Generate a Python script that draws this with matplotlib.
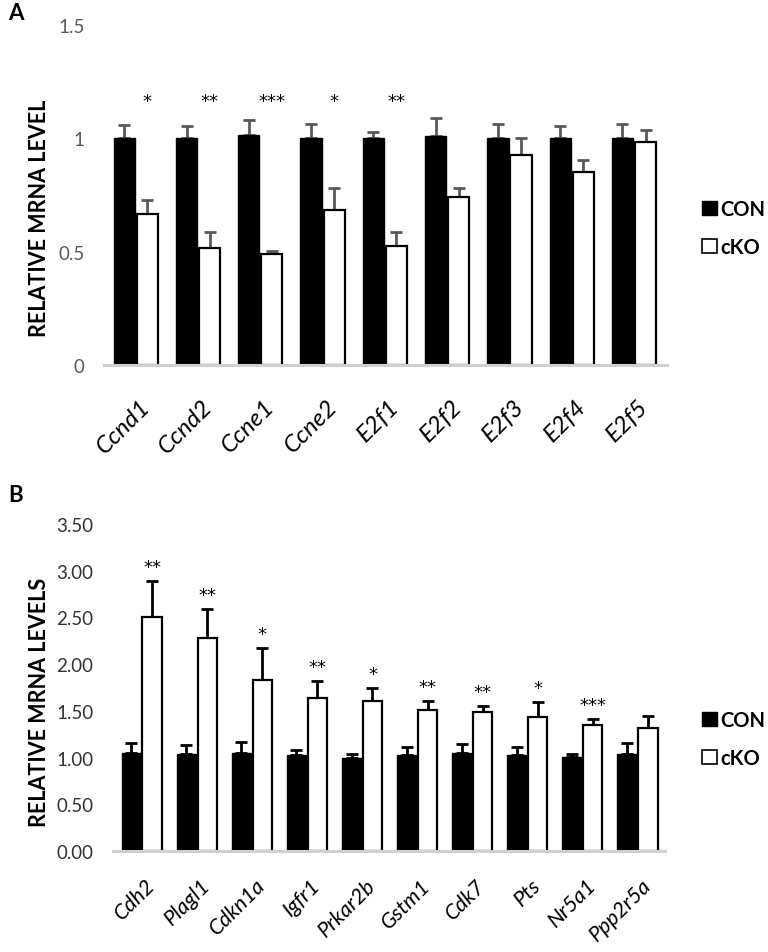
import matplotlib
matplotlib.use("Agg")
import matplotlib.pyplot as plt
import numpy as np
from matplotlib.patches import Patch

plt.rcParams["font.family"] = ["Lato", "DejaVu Sans"]

# --- Panel A: cell cycle genes ---
genes_a = ["Ccnd1", "Ccnd2", "Ccne1", "Ccne2", "E2f1", "E2f2", "E2f3", "E2f4", "E2f5"]
con_a = [1.00, 1.00, 1.015, 1.00, 1.00, 1.01, 1.00, 1.00, 1.00]
con_a_err = [0.06, 0.055, 0.065, 0.065, 0.03, 0.08, 0.065, 0.055, 0.065]
cko_a = [0.665, 0.515, 0.49, 0.685, 0.527, 0.74, 0.925, 0.853, 0.985]
cko_a_err = [0.065, 0.07, 0.015, 0.097, 0.058, 0.04, 0.075, 0.05, 0.05]
stars_a = ["*", "**", "***", "*", "**", "", "", "", ""]

# --- Panel B: upregulated genes ---
genes_b = ["Cdh2", "Plagl1", "Cdkn1a", "Igfr1", "Prkar2b", "Gstm1", "Cdk7", "Pts", "Nr5a1", "Ppp2r5a"]
con_b = [1.05, 1.04, 1.05, 1.03, 1.00, 1.03, 1.05, 1.03, 1.01, 1.04]
con_b_err = [0.11, 0.09, 0.12, 0.05, 0.04, 0.08, 0.10, 0.08, 0.03, 0.12]
cko_b = [2.50, 2.28, 1.83, 1.64, 1.61, 1.51, 1.49, 1.43, 1.35, 1.32]
cko_b_err = [0.39, 0.31, 0.34, 0.18, 0.13, 0.10, 0.06, 0.16, 0.06, 0.13]
stars_b = ["**", "**", "*", "**", "*", "**", "**", "*", "***", ""]

W, H = 768, 953
fig = plt.figure(figsize=(W / 100, H / 100), dpi=100)


def px_axes(left, right, top, bottom):
    return fig.add_axes([left / W, 1 - bottom / H, (right - left) / W, (bottom - top) / H])


def draw_panel(ax, genes, con, con_err, cko, cko_err, err_color, width, off, lab_size, lab_pad):
    x = np.arange(len(genes))
    ax.bar(x - off, con, width, color="black", edgecolor="black", linewidth=1.0, zorder=2)
    ax.bar(x + off, cko, width, color="white", edgecolor="black", linewidth=1.6, zorder=2)
    ekw = dict(fmt="none", ecolor=err_color, elinewidth=2.0, capsize=4, capthick=2.0, zorder=1)
    ax.errorbar(x - off, con, yerr=[np.zeros(len(con)), con_err], **ekw)
    ax.errorbar(x + off, cko, yerr=[np.zeros(len(cko)), cko_err], **ekw)
    for s in ["top", "right", "left"]:
        ax.spines[s].set_visible(False)
    ax.spines["bottom"].set_color("#d0d0d0")
    ax.spines["bottom"].set_linewidth(2.2)
    ax.spines["bottom"].set_zorder(3)
    ax.set_xticks(x + 0.06)
    ax.set_xticklabels(genes, rotation=45, ha="right", va="top", rotation_mode="anchor",
                       fontsize=lab_size, style="italic")
    ax.tick_params(axis="x", length=0, pad=lab_pad)
    ax.tick_params(axis="y", length=0, labelsize=13.5)
    return x


def add_legend(ax, y_center):
    handles = [Patch(facecolor="black", edgecolor="black"),
               Patch(facecolor="white", edgecolor="black", linewidth=1.2)]
    ax.legend(handles, ["CON", "cKO"], loc="center left",
              bbox_to_anchor=(702 / W, 1 - y_center / H), bbox_transform=fig.transFigure,
              frameon=False, handlelength=0.75, handleheight=0.75, handletextpad=0.15,
              labelspacing=0.9, borderpad=0, borderaxespad=0,
              prop={"weight": "bold", "size": 14.5})


# Panel A
axA = px_axes(104, 667, 26, 366)
xa = draw_panel(axA, genes_a, con_a, con_a_err, cko_a, cko_a_err, "#595959", 0.34, 0.185, 17.5, 22)
axA.set_xlim(-0.51, 8.53)
axA.set_ylim(0, 1.5)
axA.set_yticks([0, 0.5, 1, 1.5])
axA.set_yticklabels(["0", "0.5", "1", "1.5"], color="#595959")
axA.tick_params(axis="y", pad=14)
for xi, s in zip(xa, stars_a):
    if s:
        axA.annotate(s, (xi + 0.185, 1.18), xytext=(0, -6), textcoords="offset points",
                     ha="center", va="baseline", fontsize=13, family="DejaVu Sans")
fig.text(40 / W, 1 - 218 / H, "RELATIVE MRNA LEVEL", rotation=90, ha="center", va="center",
         fontsize=15.5, fontweight="bold")
add_legend(axA, 229)
fig.text(8 / W, 1 - 14 / H, "A", fontsize=16, fontweight="bold", ha="left", va="center")

# Panel B
axB = px_axes(113, 665, 525, 852)
xb = draw_panel(axB, genes_b, con_b, con_b_err, cko_b, cko_b_err, "black", 0.35, 0.19, 15.5, 17)
axB.set_xlim(-0.52, 9.5)
axB.set_ylim(0, 3.5)
axB.set_yticks(np.arange(0, 3.51, 0.5))
axB.set_yticklabels([f"{v:.2f}" for v in np.arange(0, 3.51, 0.5)], color="#333333")
axB.tick_params(axis="y", pad=14)
for xi, s, v, e in zip(xb, stars_b, cko_b, cko_b_err):
    if s:
        axB.annotate(s, (xi + 0.19, v + e), xytext=(0, 6.5), textcoords="offset points",
                     ha="center", va="baseline", fontsize=13, family="DejaVu Sans")
fig.text(40 / W, 1 - 702 / H, "RELATIVE MRNA LEVELS", rotation=90, ha="center", va="center",
         fontsize=15.5, fontweight="bold")
add_legend(axB, 740)
fig.text(8 / W, 1 - 496 / H, "B", fontsize=16, fontweight="bold", ha="left", va="center")

fig.savefig("out.png", dpi=100)
